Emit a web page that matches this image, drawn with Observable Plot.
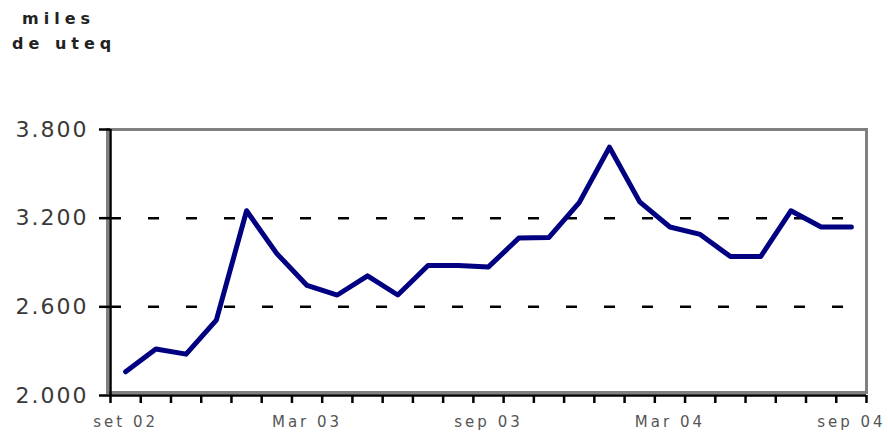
<!DOCTYPE html>
<html>
<head>
<meta charset="utf-8">
<script src="https://cdn.jsdelivr.net/npm/d3@7"></script>
<script src="https://cdn.jsdelivr.net/npm/@observablehq/plot@0.6"></script>
<style>
body { margin: 0; background: #fff; }
#wrap { position: relative; width: 888px; height: 432px; }
.t { position: absolute; font-family: "DejaVu Sans"; font-size: 16px; font-weight: bold; letter-spacing: 5px; color: #222; line-height: 1; white-space: nowrap; }
svg g[aria-label="y-axis tick label"] text { letter-spacing: 2px; }
svg g[aria-label="x-axis tick label"] text { letter-spacing: 3px; }
</style>
</head>
<body>
<div id="wrap">
  <div class="t" style="left:22px; top:11px;">miles</div>
  <div class="t" style="left:12px; top:36px;">de uteq</div>
</div>
<script>
const months = ["sep 02","oct 02","nov 02","dic 02","ene 03","feb 03","mar 03","abr 03","may 03","jun 03","jul 03","ago 03","sep 03","oct 03","nov 03","dic 03","ene 04","feb 04","mar 04","abr 04","may 04","jun 04","jul 04","ago 04","sep 04"];
const values = [2160,2315,2280,2510,3250,2960,2745,2680,2810,2680,2880,2880,2870,3065,3070,3305,3680,3310,3140,3090,2940,2940,3250,3140,3140];
const tickLabels = ["set 02","Mar 03","sep 03","Mar 04","sep 04"];
const tickIdx = [0,6,12,18,24];
const yTicks = [2000,2600,3200,3800];
const gridValues = [2600,3200];

const fmt = d3.formatLocale({decimal: ",", thousands: ".", grouping: [3], currency: ["", "€"]}).format(",");
const boundaries = d3.range(months.length + 1).map(i => i - 0.5);

const chart = Plot.plot({
  width: 888,
  height: 432,
  marginLeft: 110,
  marginRight: 22,
  marginTop: 129,
  marginBottom: 37,
  x: {type: "linear", domain: [-0.5, months.length - 0.5]},
  y: {domain: [2000, 3800]},
  style: {background: "transparent", fontFamily: "DejaVu Sans", overflow: "visible"},
  marks: [
    Plot.frame({stroke: "#808080", strokeWidth: 3, insetLeft: -3, insetBottom: 3}),
    Plot.ruleY(gridValues, {stroke: "#000", strokeWidth: 2.5, strokeDasharray: "11,27"}),
    Plot.ruleX([-0.5], {stroke: "#000", strokeWidth: 2.5}),
    Plot.ruleY([2000], {stroke: "#000", strokeWidth: 2.5}),
    Plot.axisY({ticks: yTicks, tickSize: 11, tickPadding: 11, tickFormat: fmt, stroke: "#000", strokeWidth: 2.5, fill: "#3a3a3a", fontSize: 22, label: null}),
    Plot.axisX({ticks: boundaries, tickSize: 8, tickFormat: () => "", stroke: "#000", strokeWidth: 2.5, label: null}),
    Plot.axisX({ticks: tickIdx, tickSize: 0, tickPadding: 21, tickFormat: i => tickLabels[tickIdx.indexOf(i)], fill: "#555", fontSize: 15, label: null}),
    Plot.line(values, {x: (d, i) => i, y: d => d, stroke: "#000080", strokeWidth: 5})
  ]
});
chart.style.position = "absolute";
chart.style.left = "0px";
chart.style.top = "0px";
document.getElementById("wrap").appendChild(chart);
</script>
</body>
</html>
